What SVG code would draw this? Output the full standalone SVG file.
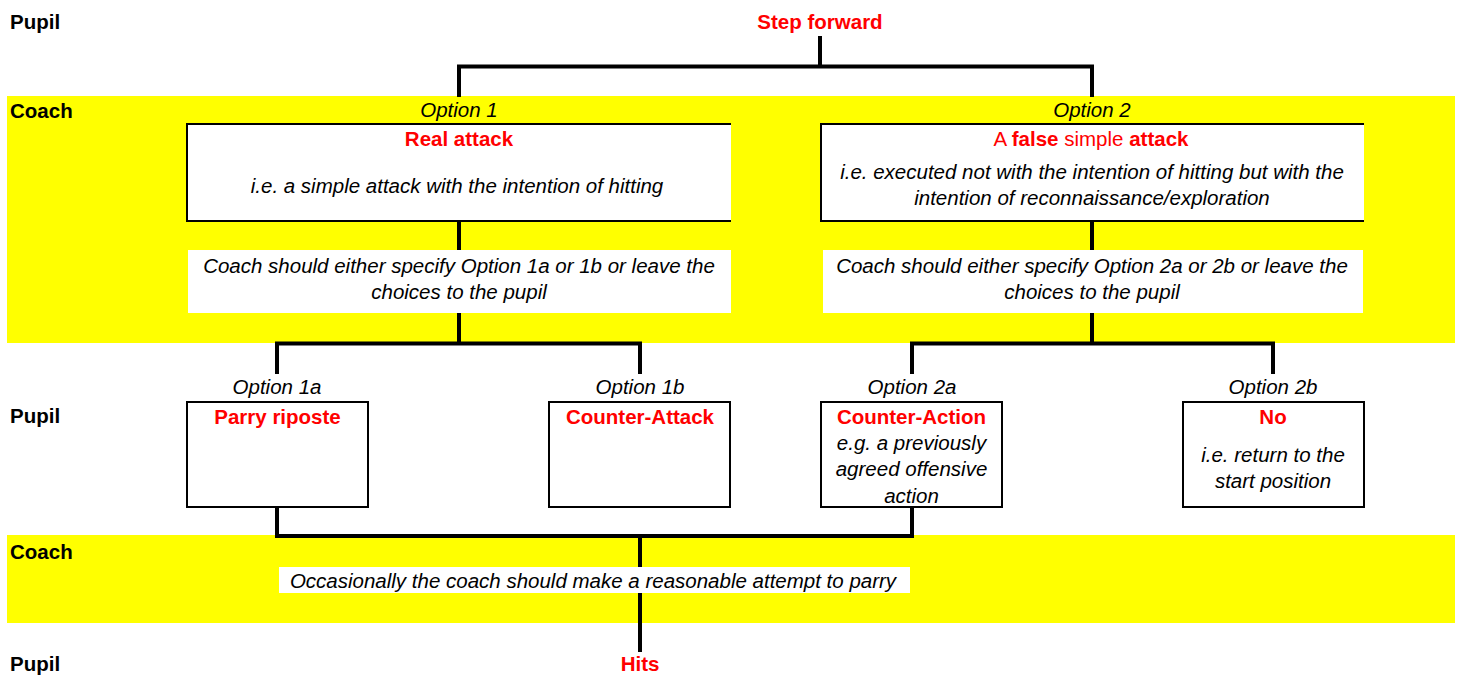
<svg xmlns="http://www.w3.org/2000/svg" width="1463" height="675" viewBox="0 0 1463 675">
<style>
text{font-family:"Liberation Sans",Arial,sans-serif;font-size:20.5px;fill:#000}
.lbl{font-weight:bold}
.red{fill:#FF0000}
.b{font-weight:bold}
.it{font-style:italic}
.c{text-anchor:middle}
.band{fill:#FFFF00}
.box{fill:#fff;stroke:#000;stroke-width:2}
.note{fill:#fff}
.edge{stroke:#000;stroke-width:2;fill:none}
.conn{stroke:#000;stroke-width:4;fill:none;stroke-linecap:square}
</style>
<rect id="band1" class="band" x="7" y="96" width="1448" height="247"/>
<rect id="band2" class="band" x="7" y="535" width="1448" height="88"/>
<g id="lanes">
<text class="lbl" x="10" y="29">Pupil</text>
<text class="lbl" x="10" y="118">Coach</text>
<text class="lbl" x="10" y="423">Pupil</text>
<text class="lbl" x="10" y="559">Coach</text>
<text class="lbl" x="10" y="671">Pupil</text>
</g>
<g id="connectors">
<path class="conn" d="M820,38 V66.5 M459,66.5 H1092 M459,66.5 V95 M1092,66.5 V95"/>
<path class="conn" d="M459,221 V343.5 M277,343.5 H640 M277,343.5 V372 M640,343.5 V372"/>
<path class="conn" d="M1092,221 V343.5 M912,343.5 H1273 M912,343.5 V372 M1273,343.5 V372"/>
<path class="conn" d="M277,507 V536 M912,507 V536 M277,536 H912 M640,536 V650"/>
</g>
<g id="step-forward">
<text class="b red c" x="820" y="29">Step forward</text>
</g>
<g id="option1">
<text class="it c" x="459" y="117">Option 1</text>
<rect class="note" x="187" y="124" width="544" height="97"/>
<path class="edge" d="M731,124 H187 V221 H731"/>
<text class="b red c" x="459" y="146">Real attack</text>
<text class="it c" x="457" y="193">i.e. a simple attack with the intention of hitting</text>
</g>
<g id="option2">
<text class="it c" x="1092" y="117">Option 2</text>
<rect class="note" x="821" y="124" width="543" height="97"/>
<path class="edge" d="M1364,124 H821 V221 H1364"/>
<text class="red c" x="1091" y="146">A <tspan class="b">false</tspan> simple <tspan class="b">attack</tspan></text>
<text class="it c" x="1092" y="179">i.e. executed not with the intention of hitting but with the</text>
<text class="it c" x="1092" y="205">intention of reconnaissance/exploration</text>
</g>
<g id="note1">
<rect class="note" x="188" y="250" width="543" height="63"/>
<text class="it c" x="459" y="273">Coach should either specify Option 1a or 1b or leave the</text>
<text class="it c" x="459" y="299">choices to the pupil</text>
</g>
<g id="note2">
<rect class="note" x="823" y="250" width="540" height="63"/>
<text class="it c" x="1092" y="273">Coach should either specify Option 2a or 2b or leave the</text>
<text class="it c" x="1092" y="299">choices to the pupil</text>
</g>
<g id="option1a">
<text class="it c" x="277" y="394">Option 1a</text>
<rect class="box" x="187" y="402" width="181" height="105"/>
<text class="b red c" x="277.5" y="424">Parry riposte</text>
</g>
<g id="option1b">
<text class="it c" x="640" y="394">Option 1b</text>
<rect class="box" x="549" y="402" width="181" height="105"/>
<text class="b red c" x="640" y="424">Counter-Attack</text>
</g>
<g id="option2a">
<text class="it c" x="912" y="394">Option 2a</text>
<rect class="box" x="821" y="402" width="181" height="105"/>
<text class="b red c" x="911.5" y="424">Counter-Action</text>
<text class="it c" x="911.5" y="449.5">e.g. a previously</text>
<text class="it c" x="911.5" y="476">agreed offensive</text>
<text class="it c" x="911.5" y="502.5">action</text>
</g>
<g id="option2b">
<text class="it c" x="1273" y="394">Option 2b</text>
<rect class="box" x="1183" y="402" width="181" height="105"/>
<text class="b red c" x="1273" y="424">No</text>
<text class="it c" x="1273" y="461.5">i.e. return to the</text>
<text class="it c" x="1273" y="488">start position</text>
</g>
<g id="note3">
<rect class="note" x="279" y="567" width="631" height="26"/>
<text class="it c" x="593" y="588">Occasionally the coach should make a reasonable attempt to parry</text>
</g>
<g id="hits">
<text class="b red c" x="640" y="671">Hits</text>
</g>
</svg>
